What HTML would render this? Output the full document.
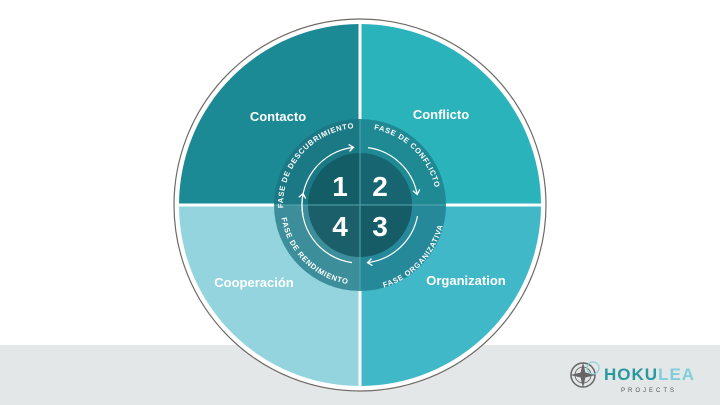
<!DOCTYPE html>
<html><head><meta charset="utf-8"><style>
html,body{margin:0;padding:0;background:#fff;}
svg{display:block;}
</style></head><body>
<svg width="720" height="405" viewBox="0 0 720 405" xmlns="http://www.w3.org/2000/svg" font-family="Liberation Sans, sans-serif">
<defs>
<clipPath id="disk"><circle cx="360" cy="205" r="181"/></clipPath>
<marker id="ah" markerWidth="8" markerHeight="8" refX="5" refY="4" orient="auto" markerUnits="userSpaceOnUse">
<path d="M1,0.5 L5.5,4 L1,7.5" fill="none" stroke="#fff" stroke-width="1.3"/>
</marker>
<path id="tTL" d="M 283.4,211.7 A 77 77 0 0 1 358,128"/>
<path id="tTR" d="M 363,128.1 A 77 77 0 0 1 436.8,199"/>
<path id="tBR" d="M 370,290.5 A 86 86 0 0 0 445,211"/>
<path id="tBL" d="M 281,214 A 80 80 0 0 0 352,284.6"/>
</defs>
<rect x="0" y="345" width="720" height="60" fill="#e4e7e7"/>
<circle cx="360" cy="205" r="186" fill="#fff" stroke="#6e6a66" stroke-width="1.2"/>
<g clip-path="url(#disk)">
<rect x="170" y="20" width="190" height="185" fill="#1c8a95"/>
<rect x="360" y="20" width="190" height="185" fill="#2ab3bb"/>
<rect x="170" y="205" width="190" height="190" fill="#93d4df"/>
<rect x="360" y="205" width="190" height="190" fill="#40b8c8"/>
<rect x="358.5" y="15" width="3" height="380" fill="#fff"/>
<rect x="170" y="203.5" width="380" height="3" fill="#fff"/>
</g>
<path d="M360,205 L360,119 A86 86 0 0 0 274,205 Z" fill="#1b7985"/>
<path d="M360,205 L446,205 A86 86 0 0 0 360,119 Z" fill="#1f8994"/>
<path d="M360,205 L274,205 A86 86 0 0 0 360,291 Z" fill="#3c8f9a"/>
<path d="M360,205 L360,291 A86 86 0 0 0 446,205 Z" fill="#26899a"/>
<path d="M360,205 L360,153 A52 52 0 0 0 308,205 Z" fill="#135d67"/>
<path d="M360,205 L412,205 A52 52 0 0 0 360,153 Z" fill="#176570"/>
<path d="M360,205 L308,205 A52 52 0 0 0 360,257 Z" fill="#1a5f69"/>
<path d="M360,205 L360,257 A52 52 0 0 0 412,205 Z" fill="#155c67"/>
<rect x="359.3" y="119" width="1.4" height="172" fill="#5aa9b2" opacity="0.7"/>
<rect x="274" y="204.3" width="172" height="1.4" fill="#5aa9b2" opacity="0.7"/>
<g fill="#fff" font-size="28" font-weight="bold" text-anchor="middle">
<text x="340" y="196">1</text><text x="380" y="196">2</text>
<text x="340" y="236">4</text><text x="380" y="236">3</text>
</g>
<g fill="none" stroke="#fff" stroke-width="1.2" marker-end="url(#ah)">
<path d="M 302.9,215.1 A 58 58 0 0 1 353,147.4"/>
<path d="M 368,147.6 A 58 58 0 0 1 417.1,194"/>
<path d="M 417.5,216 A 58 58 0 0 1 368,262.6"/>
<path d="M 352,262.6 A 58 58 0 0 1 303,194"/>
</g>
<g fill="#fff" font-size="7.5" font-weight="bold" letter-spacing="0.7">
<text><textPath href="#tTL" startOffset="50%" text-anchor="middle">FASE DE DESCUBRIMIENTO</textPath></text>
<text><textPath href="#tTR" startOffset="50%" text-anchor="middle">FASE DE CONFLICTO</textPath></text>
<text><textPath href="#tBR" startOffset="50%" text-anchor="middle">FASE ORGANIZATIVA</textPath></text>
<text><textPath href="#tBL" startOffset="50%" text-anchor="middle">FASE DE RENDIMIENTO</textPath></text>
</g>
<g fill="#fff" font-size="13" font-weight="bold" text-anchor="middle">
<text x="278" y="121">Contacto</text>
<text x="441" y="119">Conflicto</text>
<text x="254" y="287">Cooperación</text>
<text x="466" y="285">Organization</text>
</g>
<g>
<circle cx="583" cy="375" r="12" fill="none" stroke="#666" stroke-width="1.5"/>
<circle cx="583" cy="375" r="8" fill="none" stroke="#777" stroke-width="1"/>
<path d="M583,362 L586,375 L583,388 L580,375 Z M570,375 L583,372 L596,375 L583,378 Z" fill="#666"/>
<circle cx="593" cy="368" r="6" fill="none" stroke="#8ccfd8" stroke-width="1.2"/>
<text x="604" y="380" font-size="17" font-weight="bold" letter-spacing="1"><tspan fill="#27999f">HOKU</tspan><tspan fill="#7fcfd9">LEA</tspan></text>
<text x="621" y="392" font-size="6" fill="#555" letter-spacing="3">PROJECTS</text>
</g>
</svg>
</body></html>
